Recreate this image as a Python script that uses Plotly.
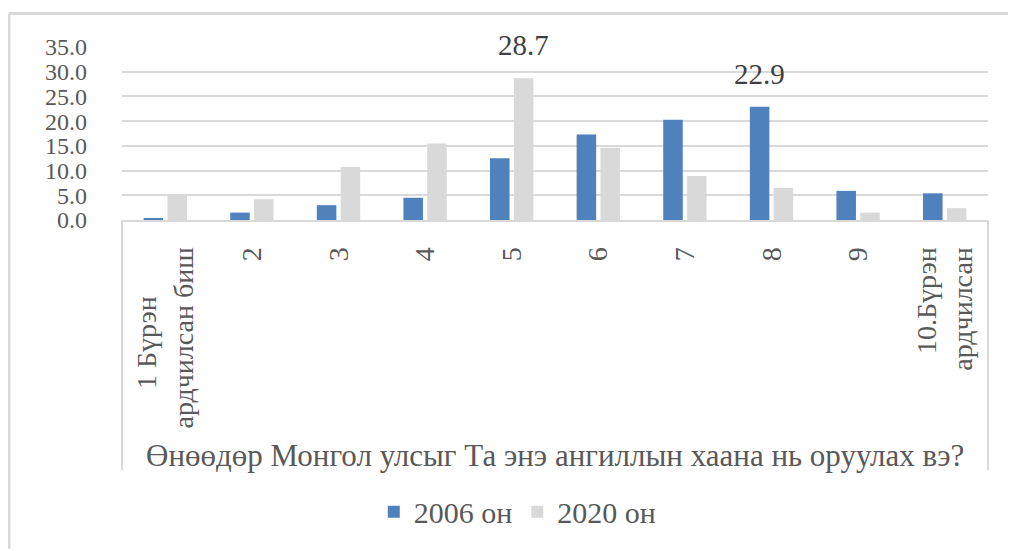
import plotly.graph_objects as go

# categories (x axis) and the two survey years
categories = ["1 Бүрэн<br>ардчилсан биш", "2", "3", "4", "5", "6", "7", "8", "9",
              "10.Бүрэн<br>ардчилсан"]
y2006 = [0.4, 1.5, 3.0, 4.5, 12.5, 17.3, 20.3, 22.9, 5.9, 5.4]
y2020 = [4.9, 4.2, 10.7, 15.5, 28.7, 14.6, 8.9, 6.5, 1.5, 2.4]
series_names = ["2006 он", "2020 он"]
y_ticks = [0, 5, 10, 15, 20, 25, 30, 35]
x_title = "Өнөөдөр Монгол улсыг Та энэ ангиллын хаана нь оруулах вэ?"

BLUE = "#4f81bd"
GREY = "#d9d9d9"
TEXT = "#595959"
FONT = "Liberation Serif"

# first tick: pad the short line so both lines look centred when rotated
tick_text = [c for c in categories]
tick_text[0] = "1 Бүрэн" + "\u00a0" * 7 + "<br>ардчилсан биш"

fig = go.Figure()
fig.add_trace(go.Bar(x=categories, y=y2006, name=series_names[0],
                     marker=dict(color=BLUE, line=dict(width=0))))
fig.add_trace(go.Bar(x=categories, y=y2020, name=series_names[1],
                     marker=dict(color=GREY, line=dict(width=0))))

# data labels only on the peak of each series
# (x given as category index, "5" would otherwise be read as a position)
for vals, shift in [(y2006, -12), (y2020, 12)]:
    i = vals.index(max(vals))
    fig.add_annotation(x=i, y=vals[i], text=f"{vals[i]:.1f}",
                       showarrow=False, yanchor="bottom", xshift=shift, yshift=15,
                       font=dict(family=FONT, size=29, color="#404040"))

# axis title written as an annotation under the category box
fig.add_annotation(x=0.5, y=-1.36, xref="paper", yref="paper", text=x_title,
                   showarrow=False, yanchor="middle",
                   font=dict(family=FONT, size=31, color=TEXT))

# category box under the axis, plus the left/top edges of the chart border
box_bottom = -1.446
for x in (0, 1):
    fig.add_shape(type="line", xref="paper", yref="paper", x0=x, x1=x, y0=0, y1=box_bottom,
                  line=dict(color=GREY, width=2))
fig.add_shape(type="line", xref="paper", yref="paper", x0=-0.1305, x1=-0.1305, y0=-1.9, y1=1.194,
              line=dict(color=GREY, width=3))
fig.add_shape(type="line", xref="paper", yref="paper", x0=-0.1305, x1=1.2, y0=1.194, y1=1.194,
              line=dict(color=GREY, width=3))

# page body adds an 8px offset, so the figure is 8px smaller and margins trimmed
fig.update_layout(
    width=1008, height=543,
    margin=dict(l=114, r=28, t=39, b=329),
    paper_bgcolor="white", plot_bgcolor="white",
    barmode="group", bargap=0.45, bargroupgap=0.18,
    font=dict(family=FONT, color=TEXT),
    showlegend=True,
    legend=dict(orientation="h", x=0.457, y=-1.686, xanchor="center", yanchor="middle",
                font=dict(family=FONT, size=30, color=TEXT)),
)
fig.update_xaxes(type="category", tickangle=-90, tickvals=categories, ticktext=tick_text,
                 tickfont=dict(family=FONT, size=28, color=TEXT),
                 showline=True, linecolor=GREY, linewidth=2, ticks="",
                 ticklabelstandoff=14, showgrid=False)
fig.update_yaxes(range=[0, 35], tickvals=y_ticks, tickformat=".1f",
                 tickfont=dict(family=FONT, size=24, color=TEXT),
                 showgrid=True, gridcolor=GREY, gridwidth=2, zeroline=False,
                 showline=False, ticklabelstandoff=34)

fig.write_html("out.html")
